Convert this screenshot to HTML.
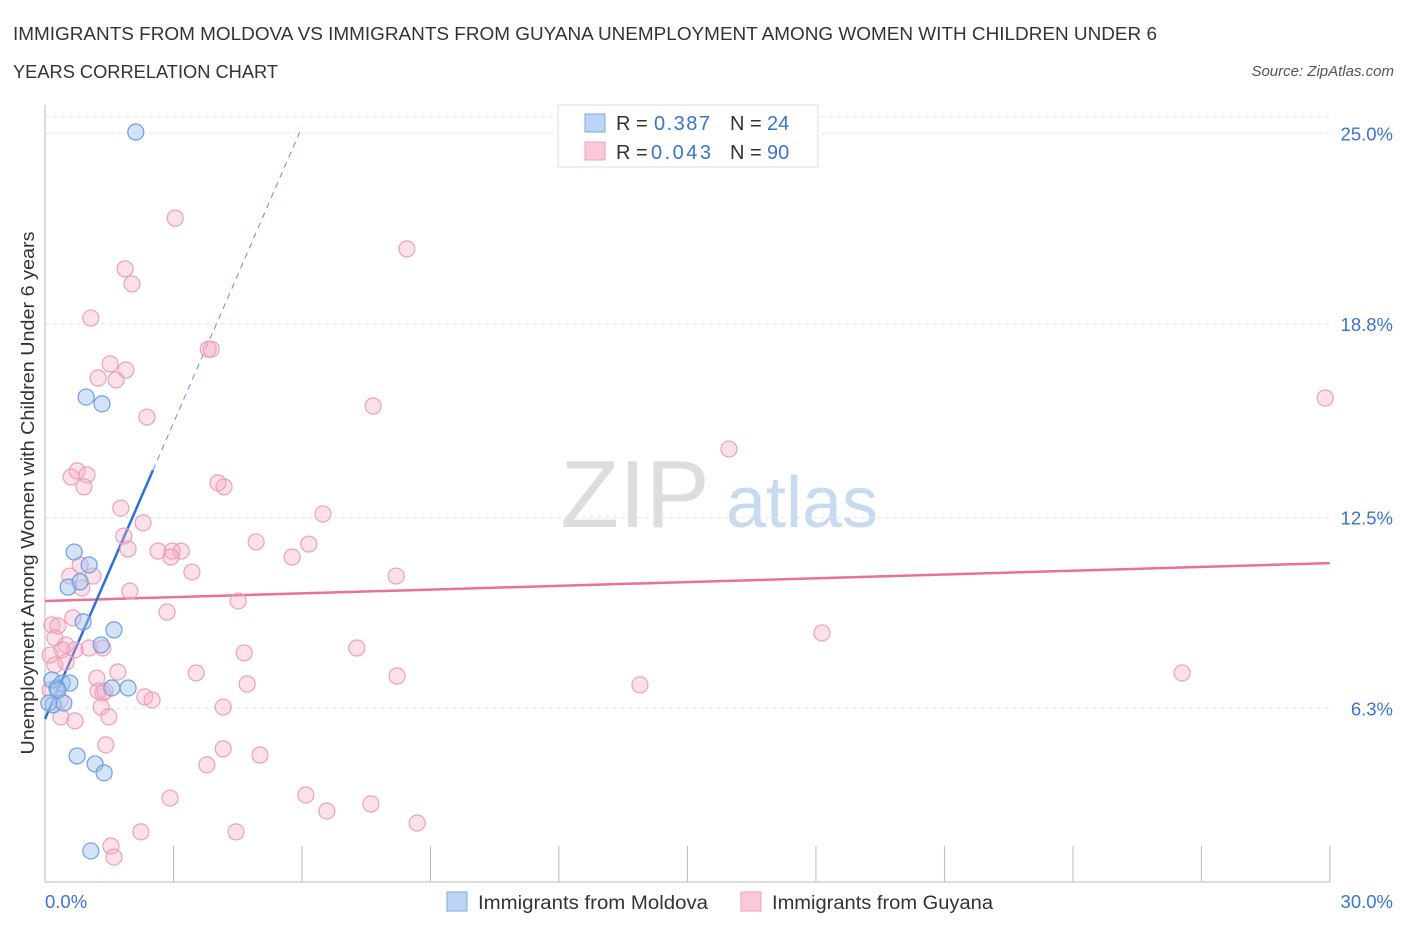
<!DOCTYPE html>
<html><head><meta charset="utf-8"><style>
body{margin:0;background:#fff;font-family:"Liberation Sans",sans-serif;}
svg text{font-family:"Liberation Sans",sans-serif;}
</style></head><body>
<svg id="chart" width="1406" height="930" xmlns="http://www.w3.org/2000/svg">
<text x="13" y="40" font-size="18" fill="#333" textLength="1144" lengthAdjust="spacingAndGlyphs">IMMIGRANTS FROM MOLDOVA VS IMMIGRANTS FROM GUYANA UNEMPLOYMENT AMONG WOMEN WITH CHILDREN UNDER 6</text>
<text x="13" y="78" font-size="18" fill="#333" textLength="265" lengthAdjust="spacingAndGlyphs">YEARS CORRELATION CHART</text>
<text x="1394" y="76" font-size="15" fill="#555" font-style="italic" text-anchor="end">Source: ZipAtlas.com</text>
<text transform="translate(34,493) rotate(-90)" font-size="18" fill="#333" text-anchor="middle" textLength="523" lengthAdjust="spacingAndGlyphs">Unemployment Among Women with Children Under 6 years</text>
<g>
<text x="635" y="527" font-size="96" fill="#ddd" font-family="Liberation Serif,serif" text-anchor="middle">ZIP</text>
<text x="802" y="527" font-size="72" fill="#c8daf0" text-anchor="middle">atlas</text>
</g>
<g id="grid"></g><g id="axes"></g><g id="lines"></g><g id="pts"></g>
<g>
<rect x="558" y="105" width="260" height="62" fill="#fff" stroke="#ddd"/>
<rect x="585" y="114" width="20" height="18" fill="#bcd5f5" stroke="#7aa8e8"/>
<rect x="585" y="142" width="20" height="18" fill="#fbc8d8" stroke="#eca0ba"/>
<text x="616" y="130" font-size="20" fill="#333">R = </text><text x="654" y="130" font-size="20" fill="#3a74d0" textLength="56">0.387</text>
<text x="730" y="130" font-size="20" fill="#333">N = </text><text x="767" y="130" font-size="20" fill="#3a74d0">24</text>
<text x="616" y="159" font-size="20" fill="#333">R = </text><text x="651" y="159" font-size="20" fill="#3a74d0" textLength="60">0.043</text>
<text x="730" y="159" font-size="20" fill="#333">N = </text><text x="767" y="159" font-size="20" fill="#3a74d0">90</text>
</g>
<g>
<rect x="447" y="892" width="20" height="19" fill="#bcd5f5" stroke="#7aa8e8"/>
<text x="478" y="909" font-size="19" fill="#333" textLength="230" lengthAdjust="spacingAndGlyphs">Immigrants from Moldova</text>
<rect x="741" y="892" width="20" height="19" fill="#fbc8d8" stroke="#eca0ba"/>
<text x="772" y="909" font-size="19" fill="#333" textLength="221" lengthAdjust="spacingAndGlyphs">Immigrants from Guyana</text>
</g>
</svg>
<script>
const blueX=[2.12,0.96,1.33,0.68,1.03,0.54,0.82,0.89,1.61,1.31,0.16,0.40,0.58,0.28,1.56,1.94,0.19,0.44,0.09,0.75,1.17,1.38,1.07,0.30];
const blueY=[25.04,16.42,16.20,11.38,10.96,10.24,10.41,9.11,8.85,8.36,7.22,7.12,7.12,6.96,6.96,6.96,6.41,6.47,6.47,4.75,4.49,4.20,1.66,6.89];
const pinkX=[3.04,8.45,1.87,2.03,1.07,3.81,3.88,1.52,1.89,1.24,1.66,7.66,2.38,15.97,29.89,0.75,0.98,0.61,0.91,4.04,4.18,1.77,2.29,6.49,1.84,4.93,1.94,2.64,2.97,3.18,2.94,6.16,5.77,0.82,3.43,8.20,0.58,1.12,0.86,1.98,4.51,2.85,0.65,0.16,0.30,0.23,0.49,1.03,1.35,0.40,0.70,0.12,4.65,7.28,18.14,0.49,1.70,3.53,1.21,8.22,26.55,4.72,13.89,1.24,1.40,1.35,2.33,2.50,1.31,4.16,0.37,1.49,0.70,1.42,4.16,5.02,3.78,2.92,6.09,6.58,7.61,8.69,2.24,4.46,1.54,1.61,0.23,0.12,0.35];
const pinkY=[22.24,21.24,20.59,20.10,18.99,17.98,17.98,17.50,17.30,17.04,16.98,16.13,15.77,14.73,16.39,14.02,13.89,13.82,13.50,13.63,13.50,12.81,12.33,12.62,11.90,11.71,11.48,11.41,11.41,11.41,11.22,11.64,11.22,10.96,10.73,10.60,10.60,10.60,10.21,10.11,9.79,9.43,9.24,9.01,8.98,8.59,8.36,8.26,8.26,8.20,8.20,8.03,8.10,8.26,8.75,7.80,7.48,7.45,7.28,7.35,7.45,7.09,7.06,6.86,6.86,6.80,6.67,6.57,6.34,6.34,6.02,6.02,5.89,5.11,4.98,4.78,4.46,3.38,3.48,2.96,3.19,2.57,2.28,2.28,1.82,1.46,7.71,6.89,6.57];
const yTicks=[25.0,18.8,12.5,6.3];
const yTickLabels=["25.0%","18.8%","12.5%","6.3%"];
const xTickVals=[3,6,9,12,15,18,21,24,27,30];
const blueTrend=[5.95,3.21];
const pinkTrend=[9.79,0.041];
const NS="http://www.w3.org/2000/svg";
const X=v=>45+v*42.83, Y=v=>902-v*30.75;
function mk(tag,attrs,parent){const e=document.createElementNS(NS,tag);for(const k in attrs)e.setAttribute(k,attrs[k]);document.getElementById(parent).appendChild(e);return e;}
const grid=mk('line',{x1:45,x2:1330,y1:117,y2:117,stroke:'#e4e4e4','stroke-dasharray':'4,4'},'grid');


yTicks.forEach((t,i)=>{
 const l=mk('line',{x1:45,x2:1330,y1:Y(t),y2:Y(t),stroke:'#e4e4e4','stroke-dasharray':'4,4'},'grid');
 
 
 const tx=mk('text',{x:1393,y:Y(t)+7,'font-size':18.5,fill:'#3a74d0','text-anchor':'end'},'axes');
 tx.textContent=yTickLabels[i];
 
 
});
const ax=mk('line',{x1:45,x2:1330,y1:882,y2:882,stroke:'#bbb'},'axes');


const ay=mk('line',{x1:45,x2:45,y1:105,y2:882,stroke:'#bbb'},'axes');


xTickVals.forEach(t=>{
 const l=mk('line',{x1:X(t),x2:X(t),y1:846,y2:882,stroke:'#bbb'},'axes');
 
 
});
const x0=mk('text',{x:45,y:908,'font-size':18.5,fill:'#3a74d0'},'axes');x0.textContent='0.0%';


const x1=mk('text',{x:1393,y:908,'font-size':18.5,fill:'#3a74d0','text-anchor':'end'},'axes');x1.textContent='30.0%';


pinkX.forEach((v,i)=>{
 const c=mk('circle',{cx:X(v),cy:Y(pinkY[i]),r:8,fill:'rgba(245,170,196,0.35)',stroke:'#eca0ba','stroke-width':1.2},'pts');
 
 
});
blueX.forEach((v,i)=>{
 const c=mk('circle',{cx:X(v),cy:Y(blueY[i]),r:8,fill:'rgba(160,195,240,0.45)',stroke:'#6e9ee0','stroke-width':1.2},'pts');
 
 
});
const pl=mk('line',{x1:X(0),y1:Y(pinkTrend[0]),x2:X(30),y2:Y(pinkTrend[0]+30*pinkTrend[1]),stroke:'#e8709a','stroke-width':2.5},'lines');


const bl=mk('line',{x1:X(0),y1:Y(blueTrend[0]),x2:X(2.52),y2:Y(blueTrend[0]+2.52*blueTrend[1]),stroke:'#2f6fd8','stroke-width':2.5},'lines');


const bd=mk('line',{x1:X(2.52),y1:Y(blueTrend[0]+2.52*blueTrend[1]),x2:X(6.0),y2:Y(blueTrend[0]+6.0*blueTrend[1]),stroke:'#5b8fe0','stroke-width':1,'stroke-dasharray':'6,5'},'lines');


</script>
</body></html>
